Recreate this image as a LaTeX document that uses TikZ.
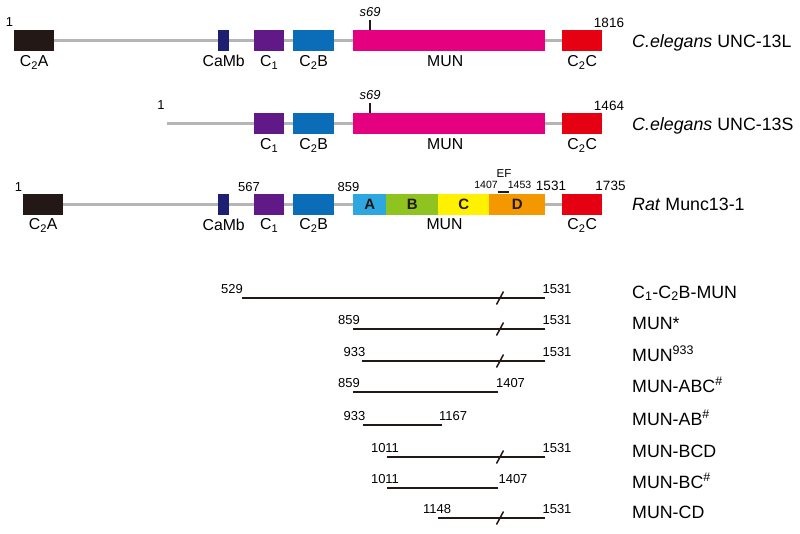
\documentclass[tikz,border=0pt]{standalone}
\usepackage{fontspec}
\setmainfont{Liberation Sans}
\usetikzlibrary{positioning}

\definecolor{c2acol}{HTML}{231815}
\definecolor{cambcol}{HTML}{1D2070}
\definecolor{c1col}{HTML}{601986}
\definecolor{c2bcol}{HTML}{0B6DB8}
\definecolor{muncol}{HTML}{E4007F}
\definecolor{c2ccol}{HTML}{E50012}
\definecolor{acol}{HTML}{2EA7E0}
\definecolor{bcol}{HTML}{8FC31F}
\definecolor{ccol}{HTML}{FFF100}
\definecolor{dcol}{HTML}{F39800}
\definecolor{linegray}{HTML}{B5B5B5}

\begin{document}
\begin{tikzpicture}[x=1pt,y=-1pt,node distance=4pt,
   dom/.style={rectangle,inner sep=0pt,minimum height=21pt,anchor=west},
   lbl/.style={inner sep=0pt,font=\fontsize{15.8}{16}\selectfont},
   num/.style={inner sep=0pt,font=\fontsize{13}{13}\selectfont},
   sml/.style={inner sep=0pt,font=\fontsize{10.5}{11}\selectfont},
   seg/.style={inner sep=0pt,font=\fontsize{15}{15}\selectfont\bfseries,text=c2acol},
   protname/.style={inner sep=0pt,anchor=base west,font=\fontsize{17.8}{18}\selectfont},
   backbone/.style={draw=linegray,line width=3pt},
   sitetick/.style={draw=c2acol,line width=1.4pt},
   frag/.style={draw=c2acol,line width=1.8pt},
   fragcut/.style={draw=c2acol,line width=1.5pt}]
   \useasboundingbox (0,0) rectangle (800,533);

   % C.elegans UNC-13L
   \node[dom,fill=c2acol,minimum width=40pt] (c2aL) at (14,40.5) {};
   \node[dom,fill=cambcol,minimum width=11pt] (cambL) at (218,40.5) {};
   \node[dom,fill=c1col,minimum width=30pt] (c1L) at (254,40.5) {};
   \node[dom,fill=c2bcol,minimum width=41pt] (c2bL) at (293,40.5) {};
   \node[dom,fill=muncol,minimum width=192pt] (munL) at (353,40.5) {};
   \node[dom,fill=c2ccol,minimum width=40pt] (c2cL) at (562,40.5) {};
   \draw[backbone] (c2aL) -- (cambL) -- (c1L) -- (c2bL) -- (munL) -- (c2cL);
   \node[lbl,below=of c2aL] {C\textsubscript{2}A};
   \node[lbl,below=of cambL] {CaMb};
   \node[lbl,below=of c1L] {C\textsubscript{1}};
   \node[lbl,below=of c2bL] {C\textsubscript{2}B};
   \node[lbl,below=of munL,xshift=-4pt] {MUN};
   \node[lbl,below=of c2cL] {C\textsubscript{2}C};
   \coordinate (s69L) at (370,20);
   \draw[sitetick] (s69L) -- (s69L |- munL.north);
   \node[num,font=\fontsize{13}{13}\selectfont\itshape,above=3pt of s69L] {s69};
   \node[num] at (9.5,22.5) {1};
   \node[num,font=\fontsize{13.5}{14}\selectfont] at (609,23) {1816};
   \node[protname] at (632,47) {\textit{C.elegans} UNC-13L};

   % C.elegans UNC-13S
   \coordinate (startS) at (167,123.5);
   \node[dom,fill=c1col,minimum width=30pt] (c1S) at (254,123.5) {};
   \node[dom,fill=c2bcol,minimum width=41pt] (c2bS) at (293,123.5) {};
   \node[dom,fill=muncol,minimum width=192pt] (munS) at (353,123.5) {};
   \node[dom,fill=c2ccol,minimum width=40pt] (c2cS) at (562,123.5) {};
   \draw[backbone] (startS) -- (c1S) -- (c2bS) -- (munS) -- (c2cS);
   \node[lbl,below=of c1S] {C\textsubscript{1}};
   \node[lbl,below=of c2bS] {C\textsubscript{2}B};
   \node[lbl,below=of munS,xshift=-4pt] {MUN};
   \node[lbl,below=of c2cS] {C\textsubscript{2}C};
   \coordinate (s69S) at (370,103);
   \draw[sitetick] (s69S) -- (s69S |- munS.north);
   \node[num,font=\fontsize{13}{13}\selectfont\itshape,above=3pt of s69S] {s69};
   \node[num] at (161,105) {1};
   \node[num,font=\fontsize{13.5}{14}\selectfont] at (609,106) {1464};
   \node[protname] at (632,130) {\textit{C.elegans} UNC-13S};

   % Rat Munc13-1
   \node[dom,fill=c2acol,minimum width=40pt] (c2aR) at (23,204) {};
   \node[dom,fill=cambcol,minimum width=11pt] (cambR) at (218,204) {};
   \node[dom,fill=c1col,minimum width=30pt] (c1R) at (254,204) {};
   \node[dom,fill=c2bcol,minimum width=41pt] (c2bR) at (293,204) {};
   \node[dom,seg,fill=acol,minimum width=33pt] (aR) at (353,204) {A};
   \node[dom,seg,fill=bcol,minimum width=52pt] (bR) at (386,204) {B};
   \node[dom,seg,fill=ccol,minimum width=51pt] (cR) at (438,204) {C};
   \node[dom,seg,fill=dcol,minimum width=56pt] (dR) at (489,204) {D};
   \node[dom,fill=c2ccol,minimum width=40pt] (c2cR) at (562,204) {};
   \draw[backbone] (c2aR) -- (cambR) -- (c1R) -- (c2bR) -- (aR);
   \draw[backbone] (dR) -- (c2cR);
   \node[lbl,below=of c2aR] {C\textsubscript{2}A};
   \node[lbl,below=of cambR] {CaMb};
   \node[lbl,below=of c1R] {C\textsubscript{1}};
   \node[lbl,below=of c2bR] {C\textsubscript{2}B};
   \node[lbl,below=of cR.south west,xshift=6.5pt] {MUN};
   \node[lbl,below=of c2cR] {C\textsubscript{2}C};
   \coordinate (efs) at (498,192);
   \coordinate (efe) at (509,192);
   \draw[line width=2pt,c2acol] (efs) -- (efe);
   \node[sml,font=\fontsize{11.5}{12}\selectfont] at (504,174) {EF};
   \node[sml] at (486,185) {1407};
   \node[sml] at (519.5,185) {1453};
   \node[num] at (18.5,187.5) {1};
   \node[num] at (249,187) {567};
   \node[num] at (348.5,187) {859};
   \node[num,font=\fontsize{13.5}{14}\selectfont] at (551,186) {1531};
   \node[num,font=\fontsize{13.5}{14}\selectfont] at (610.5,186) {1735};
   \node[protname] at (632,210.5) {\textit{Rat} Munc13-1};

   % fragments
   \coordinate (f1s) at (242,298); \coordinate (f1e) at (545,298);
   \draw[frag] (f1s) -- (f1e);
   \draw[fragcut] (500,298) ++(-3.5,6.5) -- ++(7,-13);
   \node[num] at (232,289) {529}; \node[num] at (557,289) {1531};
   \node[protname] at (632,298) {C\textsubscript{1}-C\textsubscript{2}B-MUN};

   \coordinate (f2s) at (353,329); \coordinate (f2e) at (545,329);
   \draw[frag] (f2s) -- (f2e);
   \draw[fragcut] (500,329) ++(-3.5,6.5) -- ++(7,-13);
   \node[num] at (349,320) {859}; \node[num] at (557,320) {1531};
   \node[protname] at (632,329) {MUN*};

   \coordinate (f3s) at (362,361); \coordinate (f3e) at (545,361);
   \draw[frag] (f3s) -- (f3e);
   \draw[fragcut] (500,361) ++(-3.5,6.5) -- ++(7,-13);
   \node[num] at (354.5,352) {933}; \node[num] at (557,352) {1531};
   \node[protname] at (632,361) {MUN\textsuperscript{933}};

   \coordinate (f4s) at (353,392); \coordinate (f4e) at (498,392);
   \draw[frag] (f4s) -- (f4e);
   \node[num] at (349,383) {859}; \node[num] at (510.5,383) {1407};
   \node[protname] at (632,392) {MUN-ABC\textsuperscript{\#}};

   \coordinate (f5s) at (363,425); \coordinate (f5e) at (442,425);
   \draw[frag] (f5s) -- (f5e);
   \node[num] at (354.5,416) {933}; \node[num] at (453,416) {1167};
   \node[protname] at (632,425) {MUN-AB\textsuperscript{\#}};

   \coordinate (f6s) at (387,457); \coordinate (f6e) at (545,457);
   \draw[frag] (f6s) -- (f6e);
   \draw[fragcut] (500,457) ++(-3.5,6.5) -- ++(7,-13);
   \node[num] at (385,448) {1011}; \node[num] at (557,448) {1531};
   \node[protname] at (632,457) {MUN-BCD};

   \coordinate (f7s) at (387,488); \coordinate (f7e) at (498,488);
   \draw[frag] (f7s) -- (f7e);
   \node[num] at (385,479) {1011}; \node[num] at (513,479) {1407};
   \node[protname] at (632,488) {MUN-BC\textsuperscript{\#}};

   \coordinate (f8s) at (438,518); \coordinate (f8e) at (545,518);
   \draw[frag] (f8s) -- (f8e);
   \draw[fragcut] (500,518) ++(-3.5,6.5) -- ++(7,-13);
   \node[num] at (437,509) {1148}; \node[num] at (557,509) {1531};
   \node[protname] at (632,518) {MUN-CD};
\end{tikzpicture}
\end{document}
